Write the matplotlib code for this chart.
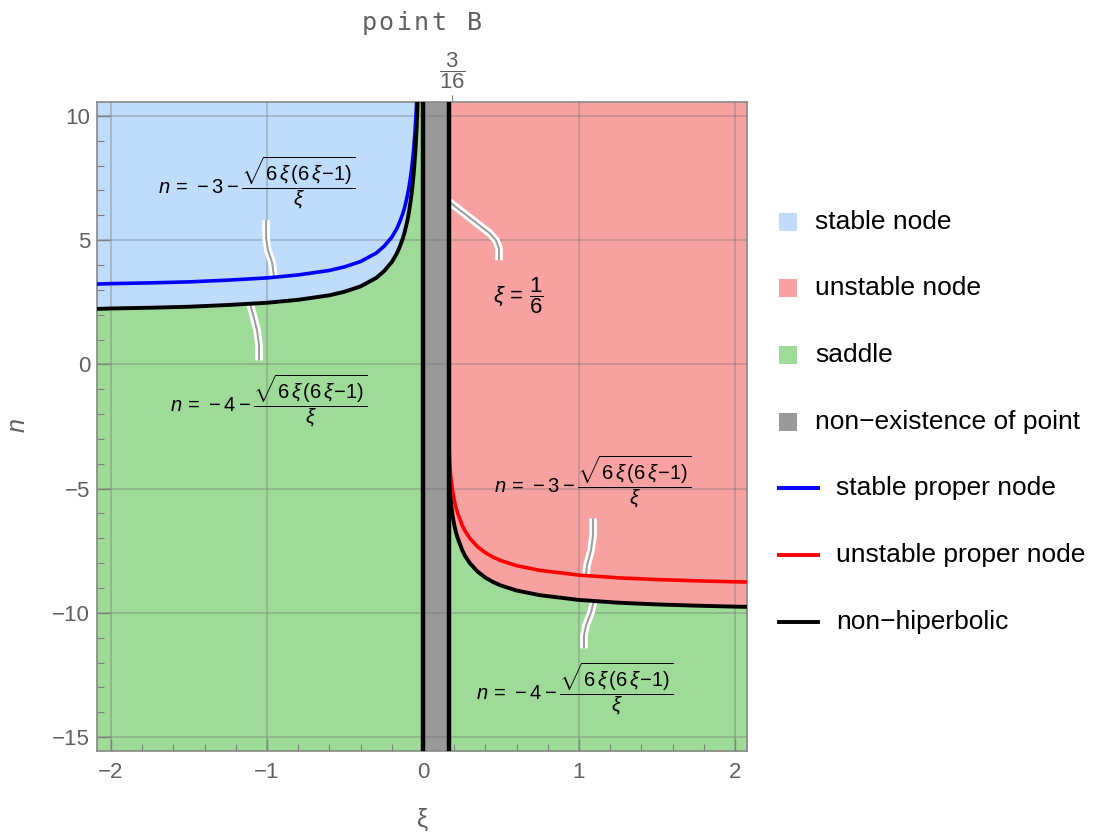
import numpy as np
import matplotlib
matplotlib.use('Agg')
import matplotlib.pyplot as plt
from matplotlib.patches import Rectangle
from matplotlib.lines import Line2D

plt.rcParams['font.family'] = ['Liberation Sans', 'DejaVu Sans']
plt.rcParams['mathtext.fontset'] = 'custom'
plt.rcParams['mathtext.rm'] = 'Liberation Sans'
plt.rcParams['mathtext.it'] = 'Liberation Sans:italic'

# curves, xi < 0 branch
xi_left = [-2.1, -2.0, -1.75, -1.5, -1.25, -1.0, -0.8, -0.6, -0.5, -0.4, -0.3, -0.25,
           -0.2, -0.17, -0.15, -0.13, -0.12, -0.11, -0.1, -0.09, -0.08, -0.07, -0.065,
           -0.06, -0.055, -0.05, -0.045, -0.04, -0.035, -0.03, -0.025, -0.02]
n_blue = [3.23, 3.25, 3.28, 3.32, 3.39, 3.48, 3.60, 3.78, 3.93, 4.14, 4.48, 4.75,
          5.12, 5.44, 5.72, 6.06, 6.27, 6.52, 6.80, 7.13, 7.54, 8.03, 8.33,
          8.66, 9.05, 9.49, 10.01, 10.64, 11.40, 12.36, 13.61, 15.33]
n_black_left = [2.23, 2.25, 2.28, 2.32, 2.39, 2.48, 2.60, 2.78, 2.93, 3.14, 3.48, 3.75,
                4.12, 4.44, 4.72, 5.06, 5.27, 5.52, 5.80, 6.13, 6.54, 7.03, 7.33,
                7.66, 8.05, 8.49, 9.01, 9.64, 10.40, 11.36, 12.61, 14.33]

# xi > 1/6 branch
xi_right = [0.1667, 0.1672, 0.168, 0.17, 0.175, 0.18, 0.185, 0.19, 0.2, 0.21, 0.22, 0.25,
            0.27, 0.3, 0.35, 0.4, 0.45, 0.5, 0.6, 0.75, 1.0, 1.25, 1.5, 1.75, 2.0, 2.1]
n_red = [-3.00, -3.34, -3.54, -3.84, -4.31, -4.63, -4.89, -5.10, -5.45, -5.73, -5.95, -6.46,
         -6.71, -7.00, -7.34, -7.58, -7.76, -7.90, -8.10, -8.29, -8.48, -8.59, -8.66, -8.71, -8.75, -8.76]
n_black_right = [-4.00, -4.34, -4.54, -4.84, -5.31, -5.63, -5.89, -6.10, -6.45, -6.73, -6.95, -7.46,
                 -7.71, -8.00, -8.34, -8.58, -8.76, -8.90, -9.10, -9.29, -9.48, -9.59, -9.66, -9.71, -9.75, -9.76]

gap_lo, gap_hi = 0.0, 1 / 6

legend_labels = ['stable node', 'unstable node', 'saddle', 'non\u2212existence of point',
                 'stable proper node', 'unstable proper node', 'non\u2212hiperbolic']

c_blue_reg = '#bfdcfb'
c_red_reg = '#f7a1a1'
c_green_reg = '#9fdb98'
c_gray_reg = '#999999'
gray_txt = '#606060'

xmin, xmax = -2.09, 2.077
ymin, ymax = -15.56, 10.56

fig = plt.figure(figsize=(11.05, 8.38), dpi=100)
ax = fig.add_axes([0.0878, 0.1038, 0.5882, 0.7745])

# regions
ax.axvspan(xmin, gap_lo, color=c_green_reg, lw=0, zorder=0.5)
ax.fill_between(xi_left, np.minimum(n_black_left, ymax), ymax, color=c_blue_reg, lw=0, zorder=0.6)
ax.axvspan(gap_hi, xmax, color=c_red_reg, lw=0, zorder=0.5)
ax.fill_between(xi_right, ymin, n_black_right, color=c_green_reg, lw=0, zorder=0.6)
ax.axvspan(gap_lo, gap_hi, color=c_gray_reg, lw=0, zorder=0.5)

# curves
ax.plot(xi_left, n_blue, color='#0000ff', lw=2.6, zorder=3)
ax.plot(xi_left, n_black_left, color='black', lw=2.8, zorder=3)
ax.plot(xi_right, n_red, color='#ff0000', lw=2.6, zorder=3)
ax.plot(xi_right, n_black_right, color='black', lw=2.8, zorder=3)
ax.axvline(gap_lo, color='black', lw=3.2, zorder=3)
ax.axvline(gap_hi, color='black', lw=3.2, zorder=3)


def callout(px, py):
    ax.plot(px, py, color='white', lw=5.5, solid_capstyle='butt', solid_joinstyle='round', zorder=2)
    ax.plot(px, py, color='#9a9a9a', lw=1.4, solid_capstyle='butt', solid_joinstyle='round', zorder=2.1)


callout([-1.006, -1.006, -0.994, -0.968, -0.955], [5.80, 5.07, 4.59, 4.11, 3.52])
callout([-1.109, -1.083, -1.064, -1.051, -1.051], [2.43, 1.85, 1.37, 0.76, 0.16])
callout([0.1667, 0.429, 0.468, 0.487, 0.487], [6.55, 5.27, 4.99, 4.67, 4.19])
callout([1.090, 1.090, 1.077, 1.051, 1.045], [-6.20, -6.88, -7.49, -8.09, -8.50])
callout([1.096, 1.077, 1.045, 1.032, 1.032], [-9.52, -9.98, -10.51, -10.91, -11.43])

frac = r'\dfrac{\sqrt{6\,\xi\,(6\,\xi\!-\!1)}}{\xi}'
lab_kw = dict(ha='center', va='center', fontsize=14.5, color='black', zorder=4)
ax.text(-1.064, 7.33, r'$n\,=\,-3-' + frac + '$', **lab_kw)
ax.text(-0.987, -1.45, r'$n\,=\,-4-' + frac + '$', **lab_kw)
ax.text(0.609, 2.78, r'$\xi\,=\,\dfrac{1}{6}$', ha='center', va='center', fontsize=16,
        color='black', zorder=4)
ax.text(1.09, -4.71, r'$n\,=\,-3-' + frac + '$', **lab_kw)
ax.text(0.974, -13.04, r'$n\,=\,-4-' + frac + '$', **lab_kw)

ax.set_xlim(xmin, xmax)
ax.set_ylim(ymin, ymax)
ax.set_xticks([-2, -1, 0, 1, 2])
ax.set_xticklabels(['\u22122', '\u22121', '0', '1', '2'])
ax.set_yticks([-15, -10, -5, 0, 5, 10])
ax.set_yticklabels(['\u221215', '\u221210', '\u22125', '0', '5', '10'])
ax.set_xticks(np.arange(-2, 2.01, 0.2), minor=True)
ax.set_yticks(np.arange(-15, 11, 1), minor=True)
ax.tick_params(which='both', direction='in', colors='#808080', labelcolor=gray_txt, labelsize=16)
ax.tick_params(axis='y', pad=5)
ax.tick_params(axis='x', pad=8)
ax.tick_params(which='major', length=9, width=1)
ax.tick_params(which='minor', length=5, width=0.8)
ax.grid(True, which='major', color='#707070', alpha=0.35, lw=1.3)
for s in ax.spines.values():
    s.set_color('#888888')
    s.set_linewidth(1.2)

top = ax.secondary_xaxis('top')
top.set_xticks([3 / 16])
top.set_xticklabels([r'$\dfrac{3}{16}$'])
top.tick_params(direction='inout', length=10, colors='#808080', labelcolor=gray_txt, labelsize=16, pad=3)
top.spines['top'].set_visible(False)

# axis labels and title
fig.text(423 / 1105, 1 - 820 / 838, '\u03be', ha='center', va='center', fontsize=18, color=gray_txt)
fig.text(18 / 1105, 1 - 425 / 838, 'n', ha='center', va='center', fontsize=18, color=gray_txt,
         style='italic', rotation=90)
title = 'point B'
for i, ch in enumerate(title):
    fig.text((421.5 + 17.6 * (i - 3)) / 1105, 1 - 30 / 838, ch, ha='center', va='baseline',
             fontsize=18, color=gray_txt, family='DejaVu Sans Mono')

# legend drawn by hand
leg_y = [222, 288, 355, 422, 488, 555, 622]
patch_colors = [c_blue_reg, c_red_reg, c_green_reg, c_gray_reg]
line_colors = ['#0000ff', '#ff0000', 'black']
for i, lab in enumerate(legend_labels):
    yc = 1 - leg_y[i] / 838
    if i < 4:
        fig.add_artist(Rectangle((779 / 1105, yc - 9 / 838), 18 / 1105, 18 / 838,
                                 transform=fig.transFigure, color=patch_colors[i], lw=0))
        tx = 815
    else:
        fig.add_artist(Line2D([779 / 1105, 818 / 1105], [yc, yc], transform=fig.transFigure,
                              color=line_colors[i - 4], lw=2.8))
        tx = 836
    fig.text(tx / 1105, yc, lab, ha='left', va='center', fontsize=19, color='black')

fig.savefig('out.png', dpi=100)
